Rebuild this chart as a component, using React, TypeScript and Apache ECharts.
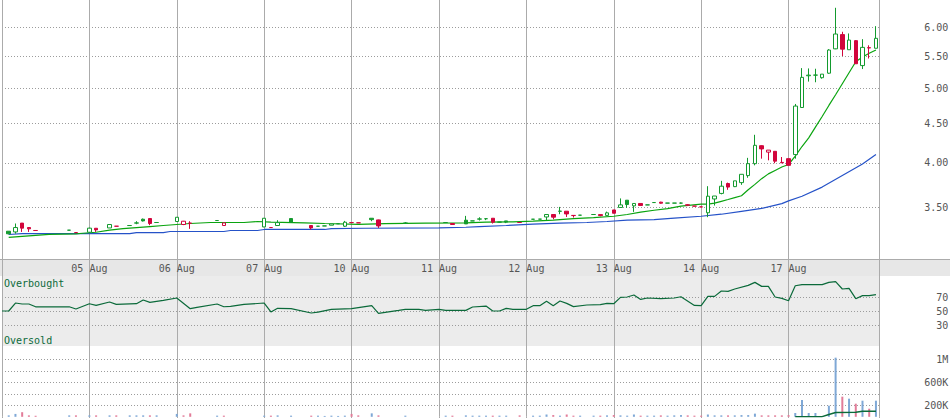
import React, { useEffect, useRef } from 'react';
import * as echarts from 'echarts';

// ---------- data ----------
const dayLabels = ['04 Aug', '05 Aug', '06 Aug', '07 Aug', '10 Aug', '11 Aug', '12 Aug', '13 Aug', '14 Aug', '17 Aug'];
const SLOTS_PER_DAY = 13;

// [slot, open, close, low, high]
const candles: number[][] = [
  [1, 3.26, 3.235, 3.23, 3.26], [2, 3.253, 3.296, 3.237, 3.336], [3, 3.34, 3.29, 3.253, 3.34],
  [4, 3.296, 3.283, 3.253, 3.296], [5, 3.267, 3.267, 3.267, 3.267], [10, 3.27, 3.27, 3.27, 3.27],
  [11, 3.247, 3.247, 3.247, 3.247], [13, 3.25, 3.29, 3.245, 3.295],
  [14, 3.289, 3.273, 3.253, 3.289], [16, 3.292, 3.326, 3.292, 3.326], [17, 3.309, 3.309, 3.309, 3.309],
  [19, 3.316, 3.316, 3.316, 3.316], [20, 3.34, 3.342, 3.329, 3.359], [21, 3.379, 3.362, 3.356, 3.386],
  [22, 3.386, 3.336, 3.319, 3.386], [23, 3.346, 3.346, 3.346, 3.346], [26, 3.356, 3.399, 3.356, 3.4],
  [27, 3.326, 3.359, 3.32, 3.362], [28, 3.34, 3.339, 3.283, 3.359], [32, 3.366, 3.366, 3.366, 3.366],
  [33, 3.316, 3.342, 3.316, 3.342], [39, 3.302, 3.389, 3.3, 3.39],
  [40, 3.296, 3.296, 3.296, 3.296], [41, 3.316, 3.345, 3.316, 3.369], [43, 3.386, 3.35, 3.35, 3.386],
  [46, 3.316, 3.292, 3.276, 3.316], [47, 3.309, 3.309, 3.309, 3.309], [48, 3.312, 3.312, 3.312, 3.312],
  [49, 3.319, 3.332, 3.319, 3.332], [50, 3.334, 3.334, 3.334, 3.334], [51, 3.309, 3.349, 3.302, 3.362],
  [52, 3.345, 3.345, 3.345, 3.345],
  [53, 3.343, 3.343, 3.343, 3.343], [55, 3.389, 3.375, 3.359, 3.389], [56, 3.372, 3.312, 3.292, 3.375],
  [60, 3.34, 3.34, 3.332, 3.349],
  [66, 3.346, 3.346, 3.346, 3.346], [67, 3.336, 3.326, 3.326, 3.336], [69, 3.369, 3.332, 3.332, 3.413],
  [70, 3.362, 3.362, 3.362, 3.362], [71, 3.38, 3.382, 3.366, 3.399], [72, 3.384, 3.384, 3.37, 3.384],
  [73, 3.389, 3.349, 3.336, 3.389], [74, 3.35, 3.35, 3.345, 3.35], [75, 3.362, 3.35, 3.34, 3.362],
  [77, 3.346, 3.346, 3.346, 3.346],
  [79, 3.379, 3.379, 3.379, 3.379], [80, 3.38, 3.38, 3.38, 3.38], [81, 3.402, 3.427, 3.369, 3.43],
  [82, 3.427, 3.4, 3.379, 3.43], [83, 3.46, 3.462, 3.43, 3.506], [84, 3.461, 3.433, 3.402, 3.461],
  [85, 3.418, 3.416, 3.396, 3.418], [86, 3.42, 3.42, 3.42, 3.42], [88, 3.427, 3.427, 3.427, 3.427],
  [89, 3.426, 3.416, 3.409, 3.426], [90, 3.418, 3.444, 3.415, 3.457], [91, 3.474, 3.44, 3.44, 3.474],
  [92, 3.5, 3.527, 3.5, 3.596], [93, 3.577, 3.531, 3.496, 3.577], [94, 3.517, 3.542, 3.454, 3.542],
  [95, 3.542, 3.521, 3.517, 3.542], [96, 3.527, 3.527, 3.527, 3.527], [97, 3.552, 3.552, 3.552, 3.552],
  [98, 3.556, 3.545, 3.54, 3.56], [99, 3.546, 3.546, 3.546, 3.546], [100, 3.546, 3.546, 3.546, 3.546],
  [101, 3.546, 3.546, 3.54, 3.552], [102, 3.528, 3.524, 3.52, 3.535], [103, 3.514, 3.514, 3.514, 3.514],
  [104, 3.506, 3.506, 3.506, 3.506],
  [105, 3.445, 3.62, 3.4, 3.73], [106, 3.59, 3.622, 3.52, 3.622], [107, 3.65, 3.73, 3.64, 3.79],
  [108, 3.76, 3.72, 3.69, 3.77], [109, 3.725, 3.79, 3.72, 3.79], [110, 3.77, 3.865, 3.745, 3.865],
  [111, 3.85, 3.99, 3.825, 4.06], [112, 3.99, 4.215, 3.97, 4.35], [113, 4.21, 4.17, 4.05, 4.215],
  [114, 4.13, 4.155, 4.03, 4.155], [115, 4.14, 4.02, 3.995, 4.14], [116, 4.005, 4.0, 4.0, 4.07],
  [117, 4.05, 3.97, 3.965, 4.05],
  [118, 4.1, 4.74, 4.05, 4.77], [119, 4.72, 5.165, 4.72, 5.31], [120, 5.19, 5.2, 5.1, 5.305],
  [121, 5.2, 5.2, 5.09, 5.3], [122, 5.16, 5.215, 5.145, 5.215], [123, 5.23, 5.605, 5.22, 5.62],
  [124, 5.625, 5.88, 5.62, 6.36], [125, 5.87, 5.62, 5.505, 5.92], [126, 5.61, 5.775, 5.61, 5.89],
  [127, 5.765, 5.38, 5.38, 5.775], [128, 5.35, 5.65, 5.295, 5.79], [129, 5.645, 5.64, 5.465, 5.685],
  [130, 5.635, 5.805, 5.635, 6.02],
];

// volume per candle (same order as candles)
const volumes: number[] = [
  25000, 50000, 80000, 25000, 18000, 25000, 25000, 25000,
  25000, 25000, 25000, 25000, 25000, 25000, 25000, 25000, 50000,
  25000, 60000, 20000, 20000, 20000,
  20000, 25000, 20000, 20000, 20000, 15000, 20000, 15000, 20000, 50000,
  25000, 60000, 25000, 20000,
  20000, 20000, 25000, 20000, 20000, 20000, 20000, 20000, 20000, 25000,
  20000, 20000, 40000, 30000, 20000, 40000, 20000, 20000, 20000, 20000, 25000, 30000,
  25000, 20000, 40000, 20000, 20000, 20000, 25000, 20000, 25000, 30000, 25000, 20000, 20000,
  40000, 25000, 25000, 25000, 25000, 30000, 30000, 55000, 25000, 25000, 25000, 25000, 30000,
  66000, 292000, 66000, 66000, 14000, 193000, 1028000, 350000, 315000, 228000, 280000, 141000, 280000,
];

// [slot, price]
const shortMA: number[][] = [
  [1, 3.2], [4, 3.215], [7, 3.23], [11, 3.235], [12, 3.24], [14, 3.25], [16, 3.27], [18, 3.285],
  [20, 3.296], [22, 3.306], [24, 3.316], [26, 3.326], [28, 3.336], [31, 3.346], [36, 3.346], [38, 3.356],
  [40, 3.35], [45, 3.343], [48, 3.336], [53, 3.328], [57, 3.334], [63, 3.339], [69, 3.342], [72, 3.349],
  [76, 3.352], [79, 3.359], [82, 3.369], [85, 3.386], [88, 3.396], [91, 3.409], [93, 3.427], [95, 3.451],
  [97, 3.471], [99, 3.488], [101, 3.514], [104, 3.535], [105, 3.535], [106, 3.545], [107, 3.565],
  [108, 3.584], [109, 3.605], [110, 3.625], [111, 3.69], [112, 3.75], [113, 3.815], [114, 3.87],
  [115, 3.91], [116, 3.95], [117, 3.98], [118, 4.08], [119, 4.2], [120, 4.31], [121, 4.45],
  [122, 4.595], [123, 4.749], [124, 4.903], [125, 5.067], [126, 5.236], [127, 5.412], [128, 5.49],
  [129, 5.55], [130, 5.606],
];

const longMA: number[][] = [
  [1, 3.228], [3, 3.237], [19, 3.237], [20, 3.247], [24, 3.247], [25, 3.257], [33, 3.257], [34, 3.267],
  [38, 3.267], [39, 3.277], [48, 3.277], [49, 3.286], [54, 3.289], [65, 3.292], [69, 3.299], [71, 3.306],
  [75, 3.316], [79, 3.329], [83, 3.339], [87, 3.346], [90, 3.356], [93, 3.369], [97, 3.375], [100, 3.39],
  [104, 3.409], [107, 3.43], [110, 3.46], [113, 3.49], [116, 3.54], [117, 3.57], [119, 3.62],
  [122, 3.72], [125, 3.85], [128, 3.985], [130, 4.1],
];

// [slot, RSI]
const rsiValues: number[][] = [
  [0, 50], [1, 50], [2, 61.4], [3, 60], [4, 60], [5, 56], [10, 56], [11, 52.9], [13, 60.4], [14, 58],
  [16, 62.9], [17, 59.4], [20, 60.4], [21, 65.7], [22, 62.3], [24, 65.1], [26, 68.6], [28, 53.3],
  [29, 55.2], [32, 60], [33, 56.1], [34, 56.6], [36, 59.4], [39, 61.4], [40, 48.6], [41, 53.8],
  [43, 53.3], [46, 47.1], [47, 48.5], [49, 52.4], [52, 53.3], [55, 57.6], [56, 46.6], [59, 50.9],
  [60, 52.4], [62, 52.4], [63, 50.9], [65, 52.4], [66, 50.9], [69, 50.9], [70, 55.7], [72, 57.1],
  [73, 50], [74, 50], [75, 53.8], [76, 52.4], [78, 52.4], [79, 57.6], [80, 57.6], [81, 63.8],
  [82, 57.6], [83, 64.3], [84, 60.9], [85, 56.2], [87, 58.6], [89, 59], [90, 60.9], [91, 60.4],
  [92, 69.5], [93, 70], [94, 72.8], [95, 66.6], [96, 68.6], [98, 67.6], [100, 68.6], [101, 70.4],
  [103, 58], [104, 57.6], [105, 70.9], [106, 70.9], [107, 78.6], [108, 78], [109, 81.4], [111, 86.6],
  [112, 90.9], [113, 85.2], [114, 85.2], [115, 70], [116, 68], [117, 64.7], [118, 86.1], [119, 87.6],
  [122, 87.6], [123, 90.9], [124, 91.9], [125, 81.4], [126, 82.4], [127, 67.6], [128, 71.9],
  [129, 71.9], [130, 73.3],
];

// [slot, volume average]
const volumeMA: number[][] = [
  [118, 3000], [122, 3000], [123, 40000], [124, 75000], [127, 78000], [128, 95000], [130, 95000],
];

const priceLevels = [3.5, 4.0, 4.5, 5.0, 5.5, 6.0];
const priceRange = [3.0, 6.51];
const rsiLevels = [30, 50, 70];
const volumeLevels = [200000, 400000, 600000, 800000, 1000000];
const volumeLabelLevels = [200000, 600000, 1000000];
const volumeMax = 1231000;

// ---------- styles ----------
const GREEN = '#139a2e';
const RED = '#d2053c';
const VOL_UP = '#7fa8d6';
const VOL_DOWN = '#e27c99';
const MONO = 'DejaVu Sans Mono';
const AXIS_TXT = '#555555';
const V_LINE = { color: '#ababab', width: 1 };
const DOT_LINE = { color: '#9c9c9c', width: 1, type: [1, 2] as number[] };

export default function App() {
  const ref = useRef<HTMLDivElement>(null);

  useEffect(() => {
    const el = ref.current;
    if (!el) return;
    const chart = echarts.init(el, undefined, { renderer: 'svg' });

    const xMax = dayLabels.length * SLOTS_PER_DAY + 0.5;
    const xTicks: number[] = [];
    for (let d = 0; d < dayLabels.length; d++) xTicks.push(d * SLOTS_PER_DAY);
    xTicks.push(xMax);

    // colour: versus previous close; fill: hollow when close > open
    const ups = candles.map((c, i) => c[2] >= (i > 0 ? candles[i - 1][2] : c[2]));
    const toCandle = (c: number[]) => [c[0], Math.log(c[1]), Math.log(c[2]), Math.log(c[3]), Math.log(c[4])];
    const greenCandles = candles.filter((_, i) => ups[i]).map(toCandle);
    const redCandles = candles.filter((_, i) => !ups[i]).map(toCandle);

    const candleStyle = (col: string) => ({
      color: '#ffffff',
      color0: col,
      borderColor: col,
      borderColor0: col,
      borderColorDoji: col,
      borderWidth: 1,
    });

    const volData = candles.map((c, i) => ({
      value: [c[0], volumes[i]],
      itemStyle: { color: ups[i] ? VOL_UP : VOL_DOWN },
    }));

    const plotLeft = 2;
    const plotWidth = 877.3;

    const makeX = (gi: number) => ({
      type: 'value',
      gridIndex: gi,
      min: 0,
      max: xMax,
      axisLine: { show: false },
      axisTick: {
        show: gi !== 1,
        customValues: xTicks,
        length: gi === 0 ? 17 : 2,
        lineStyle: V_LINE,
      },
      axisLabel: {
        show: gi === 0,
        customValues: xTicks,
        margin: 4,
        color: AXIS_TXT,
        fontFamily: MONO,
        fontSize: 10,
        formatter: (v: number) => {
          const d = Math.round(v / SLOTS_PER_DAY);
          if (v <= 0 || v >= xMax - 0.01) return '';
          return dayLabels[d] ?? '';
        },
      },
      splitLine: { show: true, lineStyle: V_LINE },
    });

    const yLabelBase = {
      align: 'right',
      margin: 69,
      color: AXIS_TXT,
      fontFamily: MONO,
      fontSize: 10,
    };

    const option: any = {
      animation: false,
      backgroundColor: '#ffffff',
      grid: [
        { left: plotLeft, top: 0, width: plotWidth, height: 259, containLabel: false, outerBoundsMode: 'none' },
        {
          left: plotLeft, top: 276, width: plotWidth, height: 70, containLabel: false, outerBoundsMode: 'none',
          show: true, backgroundColor: '#ececec', borderWidth: 0,
        },
        { left: plotLeft, top: 346, width: plotWidth, height: 70.8, containLabel: false, outerBoundsMode: 'none' },
      ],
      xAxis: [makeX(0), makeX(1), makeX(2)],
      yAxis: [
        {
          type: 'value', gridIndex: 0, position: 'right',
          min: Math.log(priceRange[0]), max: Math.log(priceRange[1]),
          axisLine: { show: false },
          axisTick: { show: false, customValues: priceLevels.map((p) => Math.log(p)) },
          axisLabel: {
            ...yLabelBase,
            customValues: priceLevels.map((p) => Math.log(p)),
            formatter: (v: number) => Math.exp(v).toFixed(2),
          },
          splitLine: { show: true, lineStyle: DOT_LINE },
        },
        {
          type: 'value', gridIndex: 1, position: 'right', min: 0, max: 100,
          axisLine: { show: false },
          axisTick: { show: false, customValues: rsiLevels },
          axisLabel: { ...yLabelBase, customValues: rsiLevels },
          splitLine: { show: true, lineStyle: DOT_LINE },
        },
        {
          type: 'value', gridIndex: 2, position: 'right', min: 0, max: volumeMax,
          axisLine: { show: false },
          axisTick: { show: false, customValues: volumeLevels },
          axisLabel: {
            ...yLabelBase,
            customValues: volumeLabelLevels,
            formatter: (v: number) => (v >= 1000000 ? `${v / 1000000}M` : `${v / 1000}K`),
          },
          splitLine: { show: true, lineStyle: DOT_LINE },
        },
      ],
      graphic: [
        {
          type: 'rect', z: -1, silent: true,
          shape: { x: 0, y: 259, width: 950, height: 17 },
          style: { fill: '#e7e7e7' },
        },
        {
          type: 'line', z: 1, silent: true,
          shape: { x1: 0, y1: 259.5, x2: 950, y2: 259.5 },
          style: { stroke: '#ababab', lineWidth: 1 },
        },
        {
          type: 'text', z: 10, silent: true, x: 4, y: 283,
          style: { text: 'Overbought', fill: '#0b6a3a', font: `10px "${MONO}"`, verticalAlign: 'middle' },
        },
        {
          type: 'text', z: 10, silent: true, x: 4, y: 340,
          style: { text: 'Oversold', fill: '#0b6a3a', font: `10px "${MONO}"`, verticalAlign: 'middle' },
        },
      ],
      series: [
        {
          type: 'line', name: 'MA long', xAxisIndex: 0, yAxisIndex: 0, z: 2, silent: true,
          symbol: 'none', data: longMA.map(([s, v]) => [s, Math.log(v)]),
          lineStyle: { color: '#2552c8', width: 1.2 },
        },
        {
          type: 'line', name: 'MA short', xAxisIndex: 0, yAxisIndex: 0, z: 3, silent: true,
          symbol: 'none', data: shortMA.map(([s, v]) => [s, Math.log(v)]),
          lineStyle: { color: '#0aa40f', width: 1.2 },
        },
        {
          type: 'candlestick', name: 'Price up', xAxisIndex: 0, yAxisIndex: 0, z: 5, silent: true,
          barWidth: 4, data: greenCandles, itemStyle: candleStyle(GREEN),
        },
        {
          type: 'candlestick', name: 'Price down', xAxisIndex: 0, yAxisIndex: 0, z: 5, silent: true,
          barWidth: 4, data: redCandles, itemStyle: candleStyle(RED),
        },
        {
          type: 'line', name: 'RSI', xAxisIndex: 1, yAxisIndex: 1, z: 3, silent: true,
          symbol: 'none', data: rsiValues,
          lineStyle: { color: '#0b6a3a', width: 1.2 },
        },
        {
          type: 'bar', name: 'Volume', xAxisIndex: 2, yAxisIndex: 2, z: 3, silent: true,
          barWidth: 2, data: volData,
        },
        {
          type: 'line', name: 'Volume MA', xAxisIndex: 2, yAxisIndex: 2, z: 4, silent: true,
          symbol: 'none', data: volumeMA,
          lineStyle: { color: '#0b6a3a', width: 1.5 },
        },
      ],
    };

    chart.setOption(option);
    return () => chart.dispose();
  }, []);

  return (
    <div
      ref={ref}
      style={{ position: 'fixed', left: 0, top: 0, width: 950, height: 418, background: '#ffffff' }}
    />
  );
}
